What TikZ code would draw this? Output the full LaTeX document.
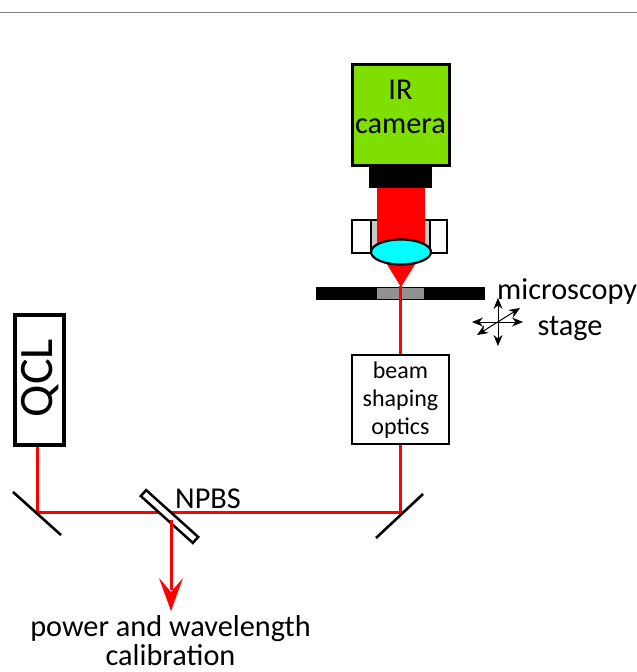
\documentclass[tikz,border=0pt]{standalone}
\usepackage{fontspec}
\setmainfont{Carlito}
\usetikzlibrary{arrows.meta}
\definecolor{camgreen}{RGB}{127,224,0}
\definecolor{stagegray}{RGB}{145,145,145}
\definecolor{holdgray}{RGB}{200,200,200}
\definecolor{lenscyan}{RGB}{0,255,255}
\definecolor{beamred}{RGB}{255,0,0}
\tikzset{
  beam/.style={beamred, line width=3pt},
  mirror/.style={black, line width=2.6pt},
  lbl/.style={font=\fontsize{30.3}{34}\selectfont, inner sep=0pt, align=center},
  smalllbl/.style={font=\fontsize{24}{28}\selectfont, inner sep=0pt, align=center},
  stagearrow/.style={<->, >={Stealth[length=11pt,width=9pt]}, line width=1pt}
}
\begin{document}
\begin{tikzpicture}[x=1pt,y=-1pt]
  \useasboundingbox (0,0) rectangle (637,672);
  \draw[gray, line width=1pt] (0,12) -- (637,12);
  % camera and objective
  \fill[holdgray] (371,220) rectangle (430,252);
  \draw[line width=1.5pt, fill=white] (352,220) rectangle (371,253);
  \draw[line width=1.5pt, fill=white] (430,220) rectangle (447,253);
  \draw[line width=1.5pt] (371,220) -- (430,220);
  \fill[beamred] (377,188) rectangle (425,252);
  \fill[beamred] (383,258) -- (419,258) -- (401,287) -- cycle;
  \node[draw, fill=camgreen, line width=3pt, minimum width=97pt, minimum height=101pt, inner sep=0pt] (cam) at (400.5,114.5) {};
  \node[lbl] (camtext) at (400.5,107) {IR\\camera};
  \node[fill=black, minimum width=63pt, minimum height=23pt, inner sep=0pt] (adapter) at (400.5,176.5) {};
  \draw[line width=2.2pt, fill=lenscyan] (401,252) ellipse [x radius=30, y radius=12.5];
  % stage
  \fill[black] (316,287) rectangle (485,299.5);
  \fill[stagegray] (377,288) rectangle (424,298.5);
  \node[lbl, anchor=base west] (micro) at (497,299) {microscopy};
  \node[lbl, anchor=base] (stagetext) at (570,335) {stage};
  \draw[stagearrow] (498,298) -- (498,346);
  \draw[stagearrow] (472,322) -- (523,322);
  \draw[stagearrow] (477,335) -- (520,308);
  % beam path
  \coordinate (focus) at (400.5,286);
  \coordinate (mleft) at (37,512);
  \coordinate (mright) at (400.5,512);
  \coordinate (split) at (171,520);
  \coordinate (power) at (171,611);
  \node[draw, fill=white, line width=1.8pt, minimum width=97pt, minimum height=89pt, inner sep=0pt] (optics) at (400.5,399.5) {};
  \node[smalllbl] (opticstext) at (400.5,400) {beam\\shaping\\optics};
  \node[draw, fill=white, line width=3.5pt, minimum width=49pt, minimum height=130pt, inner sep=0pt] (qcl) at (39.5,380) {};
  \node[rotate=90, font=\fontsize{48}{54}\selectfont, inner sep=0pt] (qcltext) at (40.5,378) {QCL};
  \draw[beam] (focus) -- (optics.north);
  \draw[beam] (qcl.south -| mleft) -- (mleft) -- (mright) -- (optics.south);
  \draw[mirror] (13,492) -- (61,535);
  \draw[mirror] (376,538) -- (423,494);
  \node[draw, fill=white, line width=2.5pt, minimum width=70pt, minimum height=8pt, inner sep=0pt, rotate=-42] (npbs) at (169.5,516.5) {};
  \node[lbl, anchor=base] (npbstext) at (208,508) {NPBS};
  \draw[beam] (split) -- (171,590);
  \fill[beamred] (power) -- (159,578) -- (171,592) -- (183,578) -- cycle;
  \node[lbl, anchor=base] (powertext) at (170.5,636) {power and wavelength};
  \node[lbl, anchor=base] (caltext) at (170.5,665) {calibration};
\end{tikzpicture}
\end{document}
